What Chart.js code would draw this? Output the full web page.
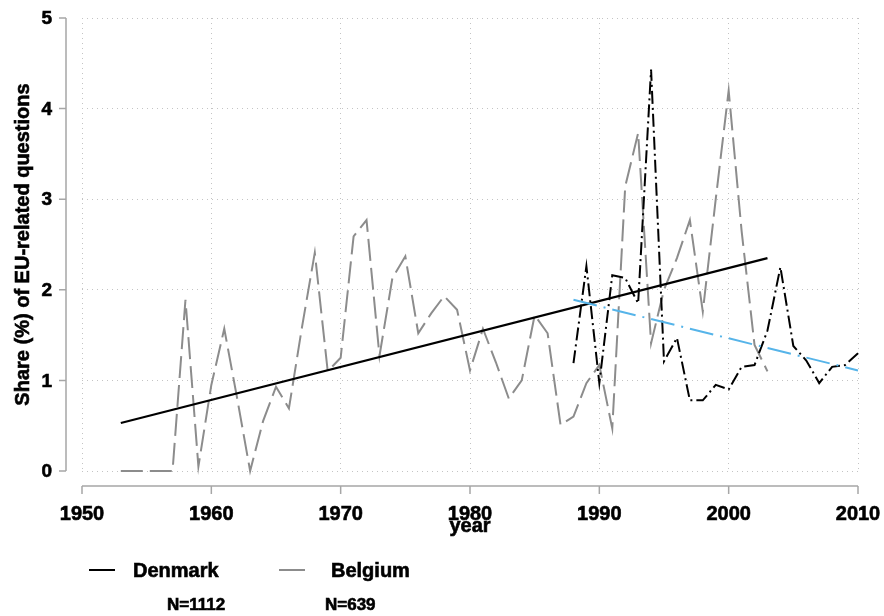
<!DOCTYPE html>
<html>
<head>
<meta charset="utf-8">
<title>EU-related questions</title>
<script src="https://cdn.jsdelivr.net/npm/chart.js@4.4.0/dist/chart.umd.min.js"></script>
<style>
  html, body { margin: 0; padding: 0; background: #fff; }
  #wrap { width: 884px; height: 616px; }
</style>
</head>
<body>
<div id="wrap"><canvas id="chart" width="884" height="616"></canvas></div>
<script>
	// Belgium: yearly share of EU-related questions (grey long dash)
	const belgiumYears = [1953, 1954, 1955, 1956, 1957, 1958, 1959, 1960, 1961, 1962,
		1963, 1964, 1965, 1966, 1967, 1968, 1969, 1970, 1971, 1972,
		1973, 1974, 1975, 1976, 1977, 1978, 1979, 1980, 1981, 1982,
		1983, 1984, 1985, 1986, 1987, 1988, 1989, 1990, 1991, 1992,
		1993, 1994, 1995, 1996, 1997, 1998, 1999, 2000, 2001, 2002, 2003];
	const belgiumShare = [0, 0, 0, 0, 0, 1.89, 0.05, 0.95, 1.57, 0.8,
		0, 0.55, 0.93, 0.69, 1.58, 2.41, 1.1, 1.25, 2.59, 2.77,
		1.27, 2.13, 2.37, 1.52, 1.74, 1.93, 1.78, 1.11, 1.57, 1.2,
		0.8, 1.0, 1.72, 1.52, 0.51, 0.6, 0.97, 1.17, 0.47, 3.14,
		3.73, 1.41, 2.0, 2.35, 2.77, 1.76, 3.0, 4.2, 2.65, 1.39, 1.1];

	// Denmark: yearly share (black dash-dot)
	const denmarkYears = [1988, 1989, 1990, 1991, 1992, 1993, 1994, 1995, 1996, 1997,
		1998, 1999, 2000, 2001, 2002, 2003, 2004, 2005, 2006, 2007, 2008, 2009, 2010];
	const denmarkShare = [1.19, 2.26, 0.97, 2.16, 2.13, 1.85, 4.43, 1.21, 1.47, 0.78,
		0.78, 0.95, 0.9, 1.15, 1.17, 1.55, 2.25, 1.38, 1.22, 0.97, 1.15, 1.17, 1.3];

	// Linear fits
	const belgiumTrendYears = [1953, 2003];
	const belgiumTrend = [0.53, 2.35];
	const denmarkTrendYears = [1988, 2010];
	const denmarkTrend = [1.89, 1.11];

	// Axis ticks
	const xTicks = [1950, 1960, 1970, 1980, 1990, 2000, 2010];
	const yTicks = [0, 1, 2, 3, 4, 5];

	const legendItems = [
		{ label: 'Denmark', n: 'N=1112', color: '#000000' },
		{ label: 'Belgium', n: 'N=639', color: '#8c8c8c' }
	];

	const toPoints = (xs, ys) => xs.map((x, i) => ({ x: x, y: ys[i] }));

	const FONT = '"Liberation Sans", Arial, sans-serif';

	// heavy text, like the Stata export
	function boldText(ctx, text, x, y) {
		ctx.fillText(text, x, y);
		ctx.strokeText(text, x, y);
	}

	/**
	 * Stata-like axes, labels and legend drawn from the chart scales
	 */
	const stataFrame = {
		id: 'stataFrame',
		afterDraw: function(chart) {
			const ctx = chart.ctx;
			const xs = chart.scales.x;
			const ys = chart.scales.y;
			const area = chart.chartArea;
			const axisX = area.left - 16;
			const axisY = area.bottom + 15;

			ctx.save();
			ctx.strokeStyle = '#a6a6a6';
			ctx.lineWidth = 1.5;
			ctx.setLineDash([]);

			// y axis + ticks
			ctx.beginPath();
			ctx.moveTo(axisX, ys.getPixelForValue(yTicks[yTicks.length - 1]));
			ctx.lineTo(axisX, ys.getPixelForValue(yTicks[0]));
			yTicks.forEach(v => {
				const py = ys.getPixelForValue(v);
				ctx.moveTo(axisX - 7, py);
				ctx.lineTo(axisX, py);
			});
			// x axis + ticks
			ctx.moveTo(xs.getPixelForValue(xTicks[0]), axisY);
			ctx.lineTo(xs.getPixelForValue(xTicks[xTicks.length - 1]), axisY);
			xTicks.forEach(v => {
				const px = xs.getPixelForValue(v);
				ctx.moveTo(px, axisY);
				ctx.lineTo(px, axisY + 8);
			});
			ctx.stroke();

			ctx.fillStyle = '#000';
			ctx.strokeStyle = '#000';
			ctx.lineWidth = 0.6;

			// y tick labels
			ctx.font = 'bold 19px ' + FONT;
			ctx.textAlign = 'right';
			ctx.textBaseline = 'middle';
			yTicks.forEach(v => {
				boldText(ctx, String(v), axisX - 14, ys.getPixelForValue(v) + 1);
			});

			// x tick labels
			ctx.font = 'bold 20px ' + FONT;
			ctx.textAlign = 'center';
			ctx.textBaseline = 'alphabetic';
			xTicks.forEach(v => {
				boldText(ctx, String(v), xs.getPixelForValue(v), axisY + 34);
			});

			// axis titles
			boldText(ctx, 'year', (area.left + area.right) / 2, axisY + 46);
			ctx.save();
			ctx.translate(29, (area.top + area.bottom) / 2);
			ctx.rotate(-Math.PI / 2);
			ctx.font = 'bold 20px ' + FONT;
			boldText(ctx, 'Share (%) of EU-related questions', 0, 0);
			ctx.restore();

			// legend
			const legendX = [89, 279];
			legendItems.forEach((item, i) => {
				const lx = legendX[i];
				ctx.save();
				ctx.setLineDash([]);
				ctx.strokeStyle = item.color;
				ctx.lineWidth = 2;
				ctx.beginPath();
				ctx.moveTo(lx, 570);
				ctx.lineTo(lx + 26, 570);
				ctx.stroke();
				ctx.restore();

				ctx.textAlign = 'left';
				ctx.font = 'bold 20px ' + FONT;
				boldText(ctx, item.label, lx + 44 + (i === 1 ? 8 : 0), 577);
				ctx.font = 'bold 17px ' + FONT;
				boldText(ctx, item.n, lx + 78 + (i === 1 ? -32 : 0), 610);
			});

			ctx.restore();
		}
	};

	const ctx = document.getElementById('chart');

	new Chart(ctx, {
		type: 'line',
		data: {
			datasets: [{
				label: 'Denmark trend',
				data: toPoints(denmarkTrendYears, denmarkTrend),
				borderColor: '#56b4e9',
				borderWidth: 2,
				borderDash: [24, 7, 2, 7],
				pointRadius: 0,
				tension: 0,
				clip: false,
				order: 1
			}, {
				label: 'Denmark',
				data: toPoints(denmarkYears, denmarkShare),
				borderColor: '#000000',
				borderWidth: 2,
				borderDash: [13, 4, 2, 4],
				pointRadius: 0,
				tension: 0,
				clip: false,
				order: 2
			}, {
				label: 'Belgium trend',
				data: toPoints(belgiumTrendYears, belgiumTrend),
				borderColor: '#000000',
				borderWidth: 2.2,
				pointRadius: 0,
				tension: 0,
				clip: false,
				order: 3
			}, {
				label: 'Belgium',
				data: toPoints(belgiumYears, belgiumShare),
				borderColor: '#8c8c8c',
				borderWidth: 2,
				borderDash: [22, 7],
				pointRadius: 0,
				tension: 0,
				clip: false,
				order: 4
			}]
		},
		options: {
			responsive: false,
			animation: false,
			events: [],
			layout: {
				padding: { left: 82, right: 26, top: 18, bottom: 145 }
			},
			plugins: {
				legend: { display: false },
				tooltip: { enabled: false }
			},
			scales: {
				x: {
					type: 'linear',
					min: 1950,
					max: 2010,
					afterBuildTicks: function(scale) {
						scale.ticks = xTicks.map(v => ({ value: v }));
					},
					ticks: { display: false },
					grid: { color: '#c4c4c4', lineWidth: 1, drawTicks: false },
					border: { display: false, dash: [1, 4] }
				},
				y: {
					type: 'linear',
					min: 0,
					max: 5,
					afterBuildTicks: function(scale) {
						scale.ticks = yTicks.map(v => ({ value: v }));
					},
					ticks: { display: false },
					grid: { color: '#c4c4c4', lineWidth: 1, drawTicks: false },
					border: { display: false, dash: [1, 4] }
				}
			}
		},
		plugins: [stataFrame]
	});
</script>
</body>
</html>
